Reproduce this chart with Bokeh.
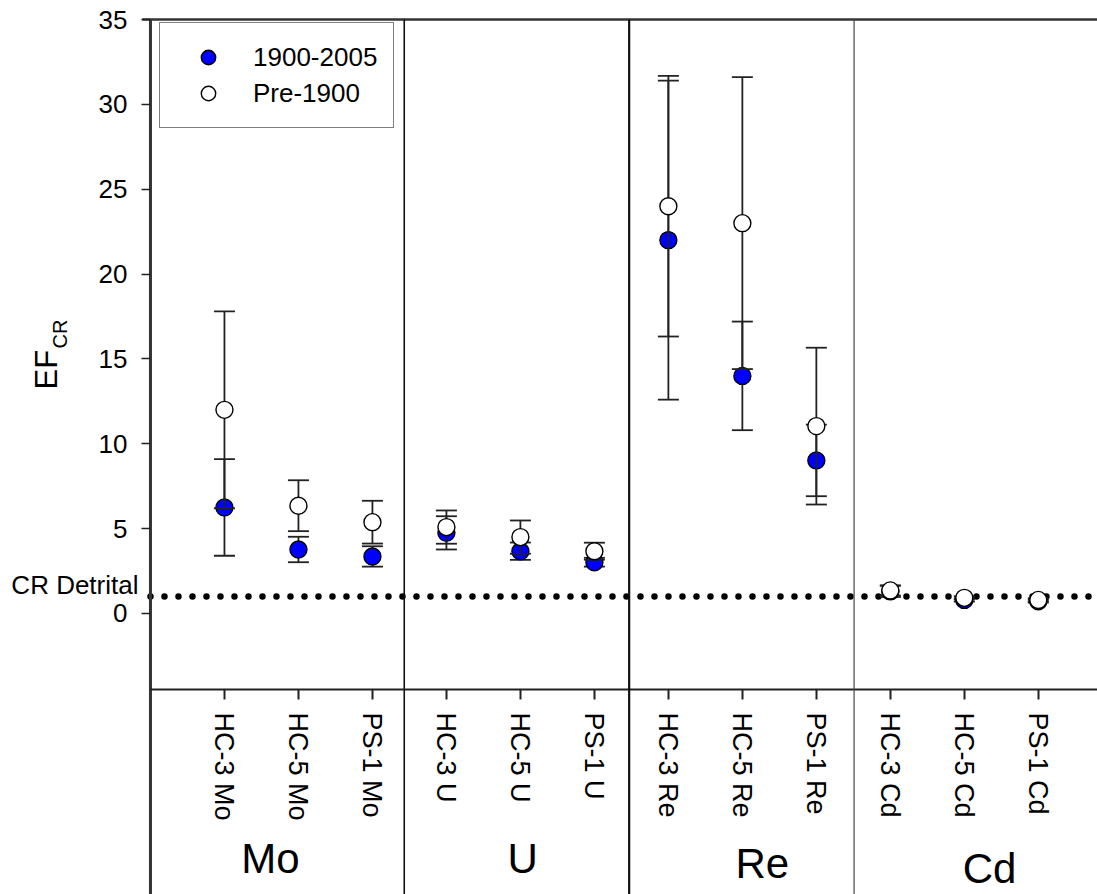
import math
from bokeh.plotting import figure
from bokeh.models import Label, FixedTicker, Legend, LegendItem
from bokeh.embed import file_html
from bokeh.resources import INLINE
from bokeh.core.properties import value

# ---------------- data ----------------
sites = ["HC-3 Mo", "HC-5 Mo", "PS-1 Mo", "HC-3 U", "HC-5 U", "PS-1 U",
         "HC-3 Re", "HC-5 Re", "PS-1 Re", "HC-3 Cd", "HC-5 Cd", "PS-1 Cd"]
recent_mean = [6.25, 3.77, 3.36, 4.75, 3.67, 3.02, 22.0, 14.0, 9.02, 1.30, 0.80, 0.72]
recent_err = [2.85, 0.75, 0.60, 0.98, 0.51, 0.26, 9.40, 3.20, 2.11, 0.33, 0.10, 0.08]
pre_mean = [12.0, 6.35, 5.38, 5.09, 4.50, 3.67, 24.0, 23.0, 11.04, 1.36, 0.92, 0.80]
pre_err = [5.80, 1.50, 1.26, 0.98, 0.98, 0.50, 7.68, 8.60, 4.62, 0.30, 0.10, 0.10]
elements = ["Mo", "U", "Re", "Cd"]
series_names = ["1900-2005", "Pre-1900"]
y_ticks = [0, 5, 10, 15, 20, 25, 30, 35]
detrital_level = 1.0

FONT = "Liberation Sans"
xs = list(range(1, len(sites) + 1))

# layout constants (frame fills the canvas; axes are drawn at fixed locations)
X_START, X_END = -2.027, 12.80
Y_START, Y_END = -16.56, 36.12
Y_TOP = 35.0          # top of the data box
Y_AXIS_POS = -4.48    # where the category axis sits
SEPARATORS = [3.43, 6.47, 9.51]

p = figure(width=1097, height=894, output_backend="svg", toolbar_location=None,
           x_range=(X_START, X_END), y_range=(Y_START, Y_END),
           min_border=0, min_border_left=0, min_border_right=0,
           min_border_top=0, min_border_bottom=0)
p.outline_line_color = None
p.grid.visible = False
p.background_fill_color = "white"
p.border_fill_color = "white"

# reference line for CR detrital (underneath everything)
p.segment(x0=[0], y0=[detrital_level], x1=[X_END], y1=[detrital_level],
          line_color="black", line_width=6.5, line_dash="0 14", line_cap="round",
          level="underlay")

# frame lines: left axis line, top line, category axis line, separators
p.segment(x0=[0], y0=[Y_START], x1=[0], y1=[Y_TOP], line_color="#333333", line_width=3)
p.segment(x0=[-0.11], y0=[Y_TOP], x1=[X_END], y1=[Y_TOP], line_color="#333333", line_width=2.5)
p.segment(x0=[0], y0=[Y_AXIS_POS], x1=[X_END], y1=[Y_AXIS_POS], line_color="#222222", line_width=2)
p.segment(x0=SEPARATORS, y0=[Y_START] * 3, x1=SEPARATORS, y1=[Y_TOP] * 3,
          line_color=["#111111", "#111111", "#444444"], line_width=[1.6, 2.2, 1.2])

# category axis
xa = p.xaxis[0]
xa.fixed_location = Y_AXIS_POS
xa.ticker = FixedTicker(ticks=xs)
xa.major_label_overrides = {x: s for x, s in zip(xs, sites)}
xa.major_label_orientation = "vertical"
xa.axis_line_color = None
xa.major_tick_out = 10
xa.major_tick_in = 0
xa.minor_tick_out = 0
xa.minor_tick_in = 0
xa.major_tick_line_width = 2
xa.major_tick_line_color = "#222222"
xa.major_label_text_font = FONT
xa.major_label_text_font_size = "27px"
xa.major_label_text_color = "black"
xa.major_label_standoff = 13

# value axis
ya = p.yaxis[0]
ya.fixed_location = 0
ya.ticker = FixedTicker(ticks=y_ticks)
ya.axis_line_color = None
ya.major_tick_out = 9
ya.major_tick_in = 0
ya.minor_tick_out = 0
ya.minor_tick_in = 0
ya.major_tick_line_width = 1.5
ya.major_tick_line_color = "#222222"
ya.major_label_text_font = FONT
ya.major_label_text_font_size = "26px"
ya.major_label_text_color = "black"
ya.major_label_standoff = 14


def draw(mean, err, fill):
    lo = [m - e for m, e in zip(mean, err)]
    hi = [m + e for m, e in zip(mean, err)]
    p.segment(x0=xs, y0=lo, x1=xs, y1=hi, line_color="#222222", line_width=1.8)
    p.scatter(x=xs + xs, y=lo + hi, marker="dash", size=21,
              line_color="#222222", line_width=1.8)
    return p.scatter(x=xs, y=mean, marker="circle", size=17, fill_color=fill,
                     line_color="black", line_width=1.4)


r_recent = draw(recent_mean, recent_err, "#0000FF")
r_pre = draw(pre_mean, pre_err, "white")

legend = Legend(items=[LegendItem(label=series_names[0], renderers=[r_recent]),
                       LegendItem(label=series_names[1], renderers=[r_pre])],
                location=(159, 766), padding=16, spacing=0,
                glyph_width=64, glyph_height=36, label_standoff=13, label_height=30,
                label_text_font=FONT, label_text_font_size="26px", label_text_color="black",
                border_line_color="black", border_line_width=1.5,
                background_fill_color="white", background_fill_alpha=1.0)
p.add_layout(legend)

# y axis title EF with subscript CR
p.add_layout(Label(x=-1.399, y=13.2, text="EF", angle=math.pi / 2, text_align="left",
                   text_baseline="middle", text_font=FONT, text_font_size="31px",
                   text_color="black"))
p.add_layout(Label(x=-1.223, y=15.61, text="CR", angle=math.pi / 2, text_align="left",
                   text_baseline="middle", text_font=FONT, text_font_size="20px",
                   text_color="black"))
p.add_layout(Label(x=-0.162, y=1.65, text="CR Detrital", text_align="right",
                   text_baseline="middle", text_font=FONT, text_font_size="26px",
                   text_color="black"))

# element group labels
p.text(x=[1.62, 5.03, 8.27, 11.34], y=[-14.41, -14.41, -14.73, -15.0], text=elements,
       text_font=value(FONT), text_font_size="42px", text_align="center",
       text_baseline="middle", text_color="black")

open("out.html", "w").write(file_html(p, INLINE))
